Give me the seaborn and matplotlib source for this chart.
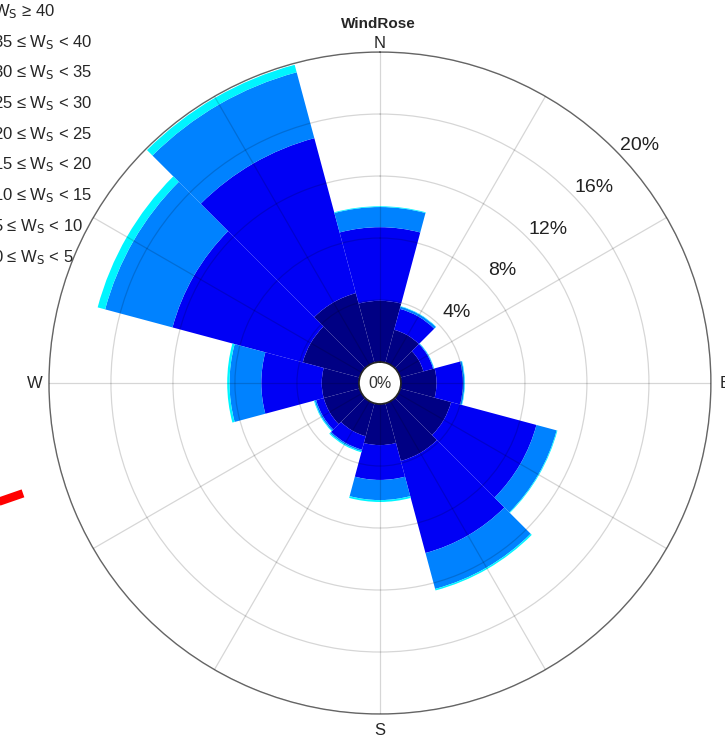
import numpy as np
import matplotlib
matplotlib.use("Agg")
import matplotlib.pyplot as plt
import seaborn as sns
from matplotlib.patches import Patch
from matplotlib.lines import Line2D

# Wind directions (bearing of sector centre, degrees) and frequency (%) per speed bin
directions = [0, 30, 60, 90, 120, 150, 180, 210, 240, 270, 300, 330]
freq_0_5 = [3.95, 2.2, 1.55, 2.3, 3.4, 3.85, 2.65, 2.2, 2.4, 2.4, 3.8, 4.65]
freq_5_10 = [4.75, 1.4, 0.65, 1.7, 5.7, 6.15, 2.25, 0.9, 0.5, 3.9, 8.7, 10.35]
freq_10_15 = [1.3, 0.15, 0.05, 0.1, 1.35, 2.4, 1.3, 0.1, 0.1, 2.05, 4.5, 4.4]
freq_15_20 = [0.05, 0.03, 0.02, 0.03, 0.05, 0.1, 0.12, 0.07, 0.05, 0.15, 0.5, 0.5]
freq_zero = [0.0] * 12

bin_labels = ["0 \u2264 W$_\\mathrm{S}$ < 5", "5 \u2264 W$_\\mathrm{S}$ < 10",
              "10 \u2264 W$_\\mathrm{S}$ < 15", "15 \u2264 W$_\\mathrm{S}$ < 20",
              "20 \u2264 W$_\\mathrm{S}$ < 25", "25 \u2264 W$_\\mathrm{S}$ < 30",
              "30 \u2264 W$_\\mathrm{S}$ < 35", "35 \u2264 W$_\\mathrm{S}$ < 40",
              "W$_\\mathrm{S}$ \u2265 40"]
# MATLAB-like jet colours, one per speed bin
bin_colors = ["#000084", "#0000F5", "#0082FF", "#00F5FF", "#80FF80",
              "#FFFF00", "#FF8000", "#FF0000", "#840000"]
ring_values = [4, 8, 12, 16, 20]
ring_labels = ["4%", "8%", "12%", "16%", "20%"]

sns.set_theme(style="white")
plt.rcParams["font.family"] = ["Liberation Sans", "DejaVu Sans"]
plt.rcParams["mathtext.default"] = "regular"

freqs = [freq_0_5, freq_5_10, freq_10_15, freq_15_20] + [freq_zero] * 5

fig = plt.figure(figsize=(7.25, 7.38), dpi=100)
ax = fig.add_axes([0.0675, 0.0325, 0.9131, 0.8970], projection="polar")
ax.set_theta_zero_location("N")
ax.set_theta_direction(-1)

theta = np.deg2rad(directions)
width = np.deg2rad(30)
bottom = np.zeros(len(directions))
for vals, col in zip(freqs, bin_colors):
    vals = np.array(vals)
    if vals.sum() > 0:
        ax.bar(theta, vals, width=width, bottom=bottom, color=col,
               edgecolor="none", linewidth=0, align="center")
    bottom += vals

ax.set_ylim(0, 20)
ax.set_rorigin(-1.354)
ax.set_xticks(np.deg2rad(np.arange(0, 360, 30)))
ax.set_xticklabels([])
ax.set_yticks(ring_values)
ax.set_yticklabels([])
ax.set_axisbelow(False)
ax.grid(True, color="black", alpha=0.16, linewidth=0.9)
ax.spines["polar"].set_color("#6e6e6e")
ax.spines["polar"].set_linewidth(1.0)
ax.spines["inner"].set_visible(False)
ax.tick_params(pad=0, length=0)

# ring labels
for v, lab in zip(ring_values, ring_labels):
    ax.text(np.deg2rad(47.5), v + 1.35, lab, ha="center", va="center",
            fontsize=14, color="#222222")
ax.text(0.5, 0.5, "0%", transform=ax.transAxes, ha="center", va="center",
        fontsize=11.5, color="#333333")

# compass labels
ax.text(0.5, 1.0136, "N", transform=ax.transAxes, ha="center", va="center", fontsize=12)
ax.text(1.0211, 0.5, "E", transform=ax.transAxes, ha="center", va="center", fontsize=12)
ax.text(0.5, -0.0242, "S", transform=ax.transAxes, ha="center", va="center", fontsize=12)
ax.text(-0.0211, 0.5, "W", transform=ax.transAxes, ha="center", va="center", fontsize=12)

ax.text(0.497, 1.0425, "WindRose", transform=ax.transAxes, ha="center", va="center",
        fontsize=11, fontweight="bold")

handles = [Patch(facecolor=c, edgecolor="none") for c in bin_colors][::-1]
fig.legend(handles, bin_labels[::-1], loc="upper left", bbox_to_anchor=(-0.074, 0.997),
           bbox_transform=fig.transFigure, frameon=False, fontsize=12,
           borderpad=0, borderaxespad=0, handlelength=2, handletextpad=0.8,
           labelspacing=0.72)

# red annotation stroke at the lower left
fig.add_artist(Line2D([-0.0138, 0.0317], [0.3160, 0.3315], transform=fig.transFigure,
                      color="red", linewidth=6, solid_capstyle="butt"))

fig.savefig("out.png", dpi=100)
